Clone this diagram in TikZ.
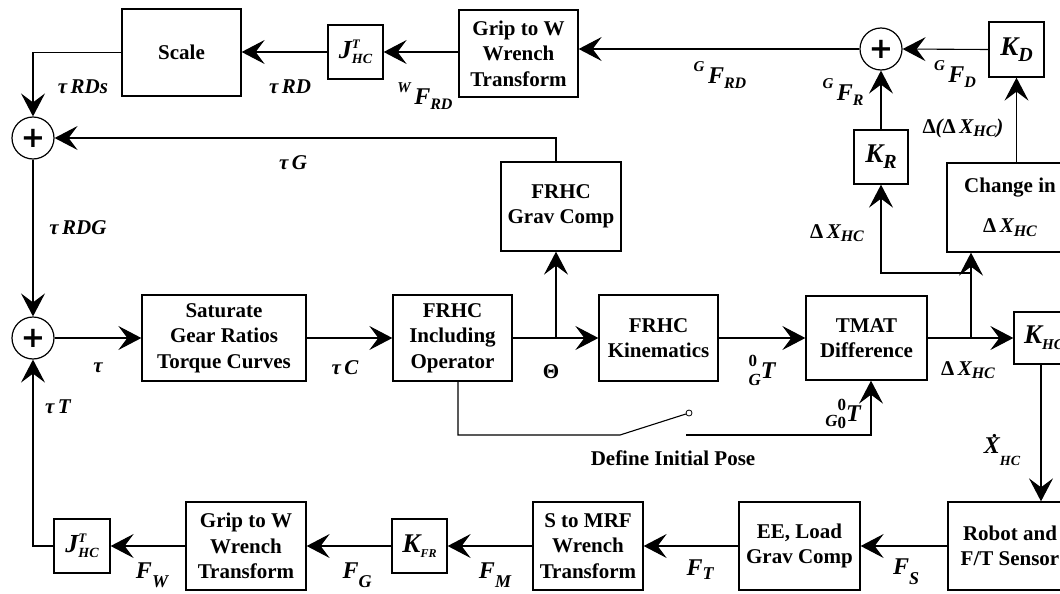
\documentclass[tikz,border=0pt]{standalone}
\usepackage{fontspec}
\setmainfont{Liberation Serif}
\newfontfamily\plusfont{DejaVu Sans}
\usetikzlibrary{arrows.meta}
\newcommand{\boxfont}{\fontsize{21}{25.5}\selectfont\bfseries}
\newcommand{\labfont}{\fontsize{21}{21}\selectfont\bfseries\itshape}
\newcommand{\Sp}[2][9pt]{\raisebox{#1}{\fontsize{15}{15}\selectfont #2}}
\newcommand{\Sb}[2][-5pt]{\raisebox{#1}{\fontsize{16}{16}\selectfont #2}}
\newcommand{\Bg}[1]{{\fontsize{24}{24}\selectfont #1}}
\newcommand{\Dl}{{\upshape Δ}}
\newcommand{\Jht}{{\fontsize{26}{26}\selectfont J}\rlap{\raisebox{10pt}{\fontsize{13}{13}\selectfont T}}\raisebox{-5pt}{\fontsize{14}{14}\selectfont HC}}
\begin{document}
\begin{tikzpicture}[x=1pt,y=-1pt,
  box/.style={draw, line width=1.3pt, inner sep=0pt, align=center, font=\boxfont},
  sumn/.style={draw, circle, line width=1.2pt, minimum size=42pt, inner sep=0pt, font=\fontsize{29}{29}\selectfont\plusfont\bfseries},
  conn/.style={line width=1.1pt},
  arr/.style={conn, -{Stealth[length=23pt,width=24pt,inset=9pt]}},
  lab/.style={font=\labfont, inner sep=0pt},
]
\useasboundingbox (0,0) rectangle (1060,594);
\clip (0,0) rectangle (1060,594);

% top row
\node[box, minimum width=119pt, minimum height=87pt] (scale) at (181.5,52.5) {Scale};
\node[box, minimum width=55pt, minimum height=54pt, font=\labfont] (jtop) at (355.5,52) {\Jht};
\node[box, minimum width=119pt, minimum height=87pt] (griptop) at (518.5,53.5) {Grip to W\\Wrench\\Transform};
\node[sumn] (sumt) at (881,49) {+};
\node[box, minimum width=55pt, minimum height=55pt, font=\labfont] (kd) at (1016.5,49.5) {{\fontsize{27}{27}\selectfont K}\Sb[-6pt]{\fontsize{20}{20}\selectfont D}};
\node[box, minimum width=54pt, minimum height=54pt, font=\labfont] (kr) at (881,157) {{\fontsize{27}{27}\selectfont K}\Sb[-6pt]{\fontsize{20}{20}\selectfont R}};
\node[box, minimum width=126pt, minimum height=89pt] (change) at (1010,207.5) {Change in\\[14pt]{\labfont \Dl\,X\Sb[-4pt]{HC}}};
\node[box, minimum width=120pt, minimum height=89pt] (grav) at (561,206.5) {FRHC\\Grav Comp};

% left sums
\node[sumn] (sum1) at (33,138) {+};
\node[sumn] (sum2) at (33,338) {+};

% middle row
\node[box, minimum width=164pt, minimum height=86pt] (sat) at (224,338) {Saturate\\Gear Ratios\\Torque Curves};
\node[box, minimum width=119pt, minimum height=86pt] (frhc) at (452.5,338) {FRHC\\Including\\Operator};
\node[box, minimum width=119pt, minimum height=86pt] (kin) at (658.5,338) {FRHC\\Kinematics};
\node[box, minimum width=121pt, minimum height=84pt] (tmat) at (866.5,338) {TMAT\\Difference};
\node[box, minimum width=60pt, minimum height=52pt, font=\labfont] (khc) at (1044,338) {{\fontsize{27}{27}\selectfont K}\raisebox{-6pt}{\fontsize{15}{15}\selectfont HC}};

% bottom row
\node[box, minimum width=124pt, minimum height=88pt] (robot) at (1010,546) {Robot and\\F/T Sensor};
\node[box, minimum width=121pt, minimum height=88pt] (ee) at (799.5,546) {EE, Load\\Grav Comp};
\node[box, minimum width=110pt, minimum height=88pt] (smrf) at (588,546) {S to MRF\\Wrench\\Transform};
\node[box, minimum width=55pt, minimum height=54pt, font=\labfont] (kfr) at (419.5,546) {{\fontsize{27}{27}\selectfont K}\raisebox{-5pt}{\fontsize{12}{12}\selectfont FR}};
\node[box, minimum width=120pt, minimum height=88pt] (gripbot) at (246,546) {Grip to W\\Wrench\\Transform};
\node[box, minimum width=56pt, minimum height=54pt, font=\labfont] (jbot) at (82,546) {\Jht};

% coordinates
\coordinate (gv) at (556,139);
\coordinate (br1) at (556,338);
\coordinate (br2) at (971,338);
\coordinate (br3) at (971,273);
\coordinate (xv) at (1041,338);
\coordinate (s1) at (458,435);
\coordinate (s2) at (620,435);
\coordinate (s4) at (686,435);
\coordinate (s5) at (871,435);
\node[draw, circle, line width=0.8pt, minimum size=6pt, inner sep=0pt] (sc) at (689,413) {};

% connectors top
\draw[arr] (kd.west) -- (sumt.east);
\draw[arr] (kr.north) -- (sumt.south);
\draw[arr] (sumt.west) -- (sumt.west -| griptop.east);
\draw[arr] (griptop.west |- jtop.east) -- (jtop.east);
\draw[arr] (jtop.west) -- (jtop.west -| scale.east);
\draw[arr] (scale.west) -| (sum1.north);
\draw[arr] (grav.north -| gv) |- (sum1.east);
\draw[arr] (sum1.south) -- (sum2.north);
\draw[arr] (br2) -- (br2 |- change.south);
\draw[arr] (br3) -| (kr.south);
\draw[arr] (change.north -| kd.south) -- (kd.south);

% middle
\draw[arr] (sum2.east) -- (sat.west);
\draw[arr] (sat.east) -- (frhc.west);
\draw[arr] (frhc.east) -- (kin.west);
\draw[arr] (br1) -- (br1 |- grav.south);
\draw[arr] (kin.east) -- (tmat.west);
\draw[arr] (tmat.east) -- (khc.west);
\draw[arr] (khc.south -| xv) -- (xv |- robot.north);

% switch
\draw[conn] (frhc.south -| s1) -- (s1) -- (s2) -- (sc);
\draw[arr] (s4) -- (s5) -- (s5 |- tmat.south);

% bottom
\draw[arr] (robot.west) -- (ee.east);
\draw[arr] (ee.west) -- (smrf.east);
\draw[arr] (smrf.west) -- (kfr.east);
\draw[arr] (kfr.west) -- (gripbot.east);
\draw[arr] (gripbot.west) -- (jbot.east);
\draw[arr] (jbot.west) -| (sum2.south);

% labels
\node[lab] (lRDs) at (83,87) {τ\,RDs};
\node[lab] (lRD) at (290,87) {τ\,RD};
\node[lab] (lWF) at (425,96) {\Sp[12pt]{W}\,\Bg{F}\Sb{RD}};
\node[lab] (lGFRD) at (720,75) {\Sp[12pt]{G}\,\Bg{F}\Sb{RD}};
\node[lab] (lGFR) at (843,92) {\Sp[12pt]{G}\,\Bg{F}\Sb{R}};
\node[lab] (lGFD) at (955,74) {\Sp[12pt]{G}\,\Bg{F}\Sb{D}};
\node[lab] (lDD) at (963,128) {\Dl(\Dl\,X\Sb[-3pt]{HC})};
\node[lab] (lDXr) at (837,233) {\Dl\,X\Sb[-3pt]{HC}};
\node[lab] (ltG) at (293,163) {τ\,G};
\node[lab] (ltRDG) at (78,228) {τ\,RDG};
\node[lab] (ltau) at (98,368) {τ};
\node[lab] (ltC) at (345,368) {τ\,C};
\node[lab, font=\fontsize{21}{21}\selectfont\bfseries] (lTh) at (551,372) {Θ};
\node[lab] (l0GT) at (762,370) {{\fontsize{17}{17}\selectfont\rlap{\raisebox{12pt}{\upshape 0}}\raisebox{-7pt}{G}}\Bg{T}};
\node[lab] (lG0T) at (843,414) {{\fontsize{17}{17}\selectfont\raisebox{-5pt}{G\raisebox{-2pt}{\upshape 0}}}\llap{\raisebox{11pt}{\fontsize{17}{17}\selectfont\upshape 0}}\Bg{T}};
\node[lab] (lDXh) at (968,370) {\Dl\,X\Sb[-3pt]{HC}};
\node[lab] (lXd) at (1002,450) {\rlap{\hspace{8pt}\raisebox{16pt}{\upshape .}}\Bg{X}\raisebox{-12pt}{\fontsize{14}{14}\selectfont HC}};
\node[lab, font=\boxfont] (ldef) at (673,458) {Define Initial Pose};
\node[lab] (ltT) at (58,407) {τ\,T};
\node[lab] (lFW) at (152,575) {\Bg{F}\raisebox{-9pt}{\fontsize{18}{18}\selectfont W}};
\node[lab] (lFG) at (357,575) {\Bg{F}\raisebox{-9pt}{\fontsize{18}{18}\selectfont G}};
\node[lab] (lFM) at (495,575) {\Bg{F}\raisebox{-9pt}{\fontsize{18}{18}\selectfont M}};
\node[lab] (lFT) at (700,570) {\Bg{F}\raisebox{-4pt}{\fontsize{18}{18}\selectfont T}};
\node[lab] (lFS) at (906,572) {\Bg{F}\raisebox{-10pt}{\fontsize{18}{18}\selectfont S}};
\end{tikzpicture}
\end{document}
